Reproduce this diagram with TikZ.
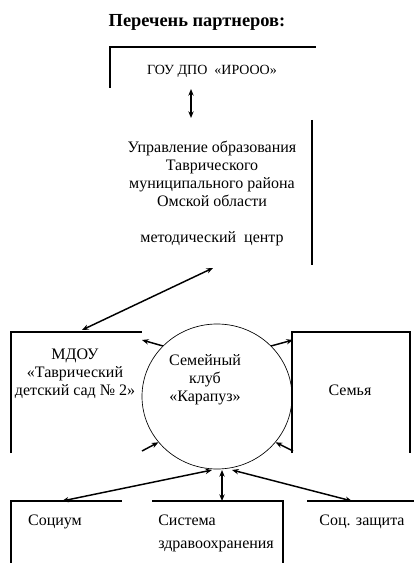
\documentclass[tikz,border=0pt]{standalone}
\usepackage{fontspec}
\setmainfont{Liberation Serif}
\usetikzlibrary{arrows.meta,shapes.geometric}
\begin{document}
\begin{tikzpicture}[x=0.75pt,y=-0.75pt,
  edge/.style={line width=0.8pt},
  link/.style={line width=1.1pt,{Stealth[length=5pt,width=4pt]}-{Stealth[length=5pt,width=4pt]}},
  onearrow/.style={line width=1.1pt,-{Stealth[length=5pt,width=4pt]}},
  txt/.style={font=\fontsize{12}{13.5}\selectfont,align=center,inner sep=0pt}]
\useasboundingbox (0,0) rectangle (414,563);
% title
\node[font=\fontsize{13.8}{15}\selectfont\bfseries,inner sep=0pt] (title) at (197,22) {Перечень партнеров:};
% box 1
\draw[edge] (110,88) -- (110,47) -- (316,47);
\node[txt,font=\fontsize{10.5}{13.5}\selectfont] (gou) at (212,71) {ГОУ ДПО \ «ИРООО»};
\coordinate (gouB) at (191,89);
% box 2
\draw[edge] (312,120) -- (312,265);
\node[txt,anchor=north] (upr) at (212,141) {Управление образования\\Таврического\\муниципального района\\Омской области\\[13.5pt]методический \ центр};
\coordinate (uprT) at (191,118);
\coordinate (uprB) at (213,268);
\draw[link] (gouB) -- (uprT);
% MDOU box
\draw[edge] (11,453) -- (11,332) -- (142,332);
\node[txt] (mdou) at (75,374) {МДОУ\\«Таврический\\детский сад № 2»};
\coordinate (mdouT) at (82,330);
\draw[link] (uprB) -- (mdouT);
% family box
\draw[edge] (292,453) -- (292,332) -- (410,332) -- (410,453);
\node[txt] (fam) at (350,390) {Семья};
% club circle
\node[draw,ellipse,line width=0.5pt,minimum width=112.5pt,minimum height=108.75pt,inner sep=0pt] (club) at (217,396.5) {};
\node[txt] (clubtxt) at (205,380) {Семейный\\клуб\\«Карапуз»};
% small arrows
\coordinate (mdouC1) at (142,340);
\coordinate (mdouC2) at (142,451);
\coordinate (famC1) at (293,340);
\coordinate (famC2) at (293,451);
\draw[onearrow] (club.137) -- (mdouC1);
\draw[onearrow] (mdouC2) -- (club.218);
\draw[onearrow] (club.43) -- (famC1);
\draw[onearrow] (famC2) -- (club.322);
% bottom boxes
\draw[edge] (11,563) -- (11,501) -- (122,501);
\node[txt] (soc) at (55,522) {Социум};
\draw[edge] (152,501) -- (283,501) -- (283,563);
\node[txt,font=\fontsize{12}{17.25}\selectfont,align=left,anchor=west] (zdr) at (158,533.5) {Система\\здравоохранения};
\draw[edge] (307,501) -- (414,501);
\node[txt] (szash) at (362,522) {Соц. защита};
\coordinate (socT) at (62,501);
\coordinate (zdrT) at (222,501);
\coordinate (szT) at (352,501);
\coordinate (cb1) at (212,470);
\coordinate (cb2) at (222,470);
\coordinate (cb3) at (232,470);
\draw[link] (cb1) -- (socT);
\draw[link] (cb2) -- (zdrT);
\draw[link] (cb3) -- (szT);
\end{tikzpicture}
\end{document}
